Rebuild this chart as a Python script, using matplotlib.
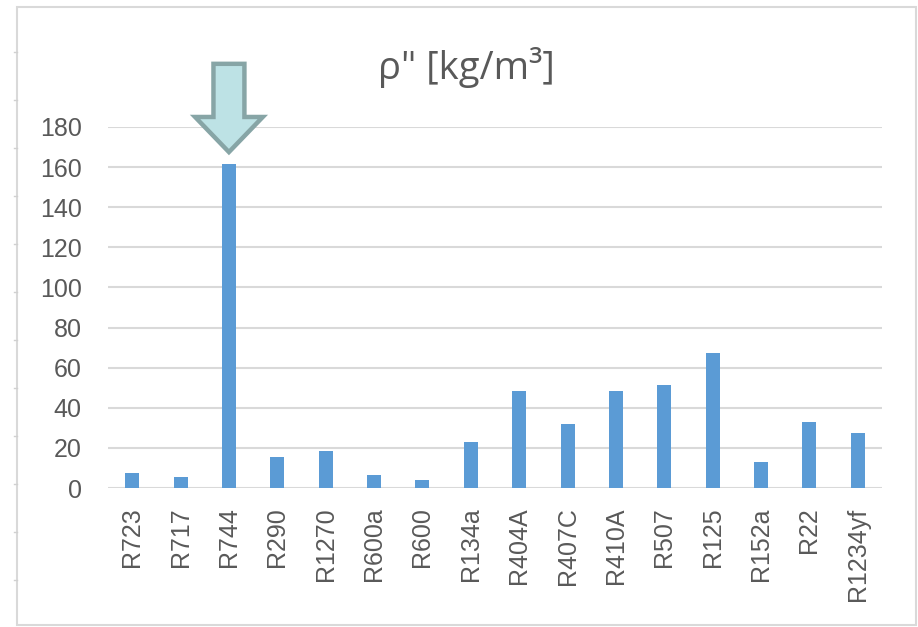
import matplotlib
matplotlib.use("Agg")
import matplotlib.pyplot as plt
from matplotlib.patches import Rectangle, Polygon
from matplotlib.lines import Line2D

categories = ["R723", "R717", "R744", "R290", "R1270", "R600a", "R600", "R134a",
              "R404A", "R407C", "R410A", "R507", "R125", "R152a", "R22", "R1234yf"]
values = [7.5, 5.5, 161.5, 15.6, 18.5, 6.4, 3.9, 22.7,
          48.6, 32.0, 48.6, 51.2, 67.1, 12.8, 32.9, 27.4]
yticks = [0, 20, 40, 60, 80, 100, 120, 140, 160, 180]
title = 'ρ" [kg/m³]'
highlight = "R744"

W, H = 918, 627
fig = plt.figure(figsize=(W / 100, H / 100), dpi=100)
fig.patch.set_facecolor("white")

# outer chart frame
fig.patches.append(Rectangle((17 / W, 1 - 625 / H), (916 - 17) / W, (625 - 7) / H,
                             transform=fig.transFigure, fill=False,
                             edgecolor="#d9d9d9", linewidth=1.5))
for yy in range(52, 600, 48):
    fig.lines.append(Line2D([14 / W, 17 / W], [1 - yy / H, 1 - yy / H],
                            transform=fig.transFigure, color="#d0d0d0", linewidth=1))

ax = fig.add_axes([108 / W, 1 - 488 / H, (882 - 108) / W, (488 - 127) / H])
x = range(len(categories))
ax.bar(x, values, width=0.29, color="#5b9bd5", zorder=3)
ax.set_xlim(-0.5, len(categories) - 0.5)
ax.set_ylim(0, 180)
ax.set_yticks(yticks)
ax.set_xticks(list(x))
ax.set_xticklabels(categories, rotation=90)
for s in ax.spines.values():
    s.set_visible(False)
ax.grid(axis="y", color="#d9d9d9", linewidth=1.5, zorder=0)
ax.tick_params(axis="both", length=0, labelsize=18, labelcolor="#595959")
ax.tick_params(axis="x", pad=14)
ax.tick_params(axis="y", pad=19)
for lab in ax.get_xticklabels() + ax.get_yticklabels():
    lab.set_family(["Liberation Sans", "DejaVu Sans"])

fig.text(466 / W, 1 - 67 / H, title, ha="center", va="center", fontsize=27.5,
         color="#595959", family=["Open Sans", "DejaVu Sans"])

# block arrow pointing at the highlighted bar
i = categories.index(highlight)
v = values[i]
tip = v + 6
head_top = v + 23.5
shaft_top = v + 50
sw, hw = 0.32, 0.70
arrow = Polygon([(i - sw, shaft_top), (i + sw, shaft_top), (i + sw, head_top),
                 (i + hw, head_top), (i, tip), (i - hw, head_top), (i - sw, head_top)],
                closed=True, facecolor="#bde2e5", edgecolor="#87a5a6",
                linewidth=3.2, clip_on=False, zorder=5, joinstyle="miter")
ax.add_patch(arrow)

fig.savefig("out.png", dpi=100, facecolor="white")
